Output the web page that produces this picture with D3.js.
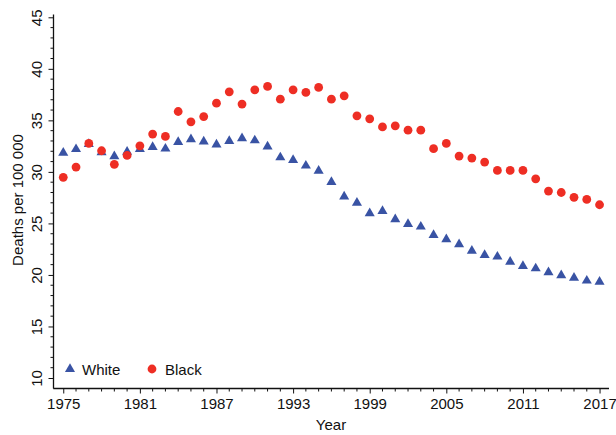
<!DOCTYPE html>
<html>
<head>
<meta charset="utf-8">
<script src="https://cdn.jsdelivr.net/npm/d3@7"></script>
<style>
  body { margin: 0; background: #fff; }
  text { font-family: "Liberation Sans", Arial, Helvetica, sans-serif; fill: #111; }
</style>
</head>
<body>
<div id="chart-area"></div>
<script>
// data
let years = d3.range(1975, 2018);

let white = [31.85, 32.2, 32.7, 31.9, 31.5, 31.95, 32.2, 32.4, 32.25, 32.9,
	33.15, 32.95, 32.65, 33.0, 33.25, 33.05, 32.45, 31.4, 31.15, 30.6,
	30.1, 29.0, 27.6, 27.0, 25.97, 26.2, 25.4, 24.94, 24.68, 23.87,
	23.45, 22.96, 22.35, 21.93, 21.77, 21.28, 20.86, 20.63, 20.25, 19.96,
	19.73, 19.44, 19.34];

let black = [29.47, 30.47, 32.76, 32.05, 30.73, 31.6, 32.53, 33.67, 33.44, 35.86,
	34.86, 35.37, 36.67, 37.77, 36.58, 37.96, 38.29, 37.06, 37.96, 37.71,
	38.2, 37.06, 37.38, 35.44, 35.15, 34.36, 34.47, 34.05, 34.05, 32.25,
	32.76, 31.53, 31.34, 30.95, 30.14, 30.14, 30.14, 29.33, 28.14, 28.0,
	27.53, 27.33, 26.81];

let xTicks = [1975, 1981, 1987, 1993, 1999, 2005, 2011, 2017];
let yTicks = [10, 15, 20, 25, 30, 35, 40, 45];
let seriesNames = ["White", "Black"];

let blue = "#3953a4", red = "#ee2e24";

let width = 616, height = 435;

let svg = d3.select("#chart-area").append("svg")
	.attr("width", width)
	.attr("height", height);

// scales
let x = d3.scaleLinear()
	.domain([1974.22, 2017.74])
	.range([53.3, 609]);

let y = d3.scaleLinear()
	.domain([10, 45])
	.range([378, 17.3]);

let axisBottomY = 388.5;

// y axis
let yAxis = d3.axisLeft(y)
	.tickValues(yTicks)
	.tickSize(5)
	.tickFormat(d3.format("d"));

let gy = svg.append("g")
	.attr("class", "axis y-axis")
	.attr("transform", "translate(53.5,0)")
	.call(yAxis);
gy.select(".domain").remove();
gy.selectAll(".tick line").attr("stroke", "#111");
gy.selectAll(".tick text")
	.attr("font-size", 15)
	.attr("text-anchor", "middle")
	.attr("dy", null)
	.attr("x", null)
	.attr("transform", "translate(-15,0) rotate(-90)")
	.attr("dominant-baseline", "middle");

// minor y ticks
gy.selectAll(".minor")
	.data(d3.range(10, 46).filter(v => v % 5 !== 0))
	.enter()
	.append("line")
	.attr("class", "minor")
	.attr("x1", -3)
	.attr("x2", 0)
	.attr("y1", d => y(d))
	.attr("y2", d => y(d))
	.attr("stroke", "#111");

gy.append("line")
	.attr("x1", 0).attr("x2", 0)
	.attr("y1", 14.5).attr("y2", axisBottomY)
	.attr("stroke", "#111")
	.attr("stroke-width", 1.3);

// x axis
let xAxis = d3.axisBottom(x)
	.tickValues(xTicks)
	.tickSize(5)
	.tickPadding(5)
	.tickFormat(d3.format("d"));

let gx = svg.append("g")
	.attr("class", "axis x-axis")
	.attr("transform", "translate(0," + axisBottomY + ")")
	.call(xAxis);
gx.select(".domain").remove();
gx.selectAll(".tick line").attr("stroke", "#111");
gx.selectAll(".tick text").attr("font-size", 15);

gx.selectAll(".minor")
	.data(years.filter(v => !xTicks.includes(v)))
	.enter()
	.append("line")
	.attr("class", "minor")
	.attr("x1", d => x(d))
	.attr("x2", d => x(d))
	.attr("y1", 0)
	.attr("y2", 3)
	.attr("stroke", "#111");

gx.append("line")
	.attr("x1", 53.3).attr("x2", 609)
	.attr("y1", 0).attr("y2", 0)
	.attr("stroke", "#111")
	.attr("stroke-width", 1.3);

// axis titles
svg.append("text")
	.attr("x", 331)
	.attr("y", 430)
	.attr("text-anchor", "middle")
	.attr("font-size", 15)
	.text("Year");

svg.append("text")
	.attr("transform", "translate(23,200) rotate(-90)")
	.attr("text-anchor", "middle")
	.attr("font-size", 15)
	.text("Deaths per 100 000");

// points
let tri = d3.symbol().type(d3.symbolTriangle).size(44);

let whitePts = years.map((yr, i) => ({year: yr, value: white[i]}));
let blackPts = years.map((yr, i) => ({year: yr, value: black[i]}));

svg.selectAll(".white-pt").data(whitePts)
	.enter()
	.append("path")
	.attr("class", "white-pt")
	.attr("d", tri)
	.attr("transform", d => "translate(" + x(d.year) + "," + y(d.value) + ")")
	.attr("fill", blue);

svg.selectAll(".black-pt").data(blackPts)
	.enter()
	.append("circle")
	.attr("class", "black-pt")
	.attr("cx", d => x(d.year))
	.attr("cy", d => y(d.value))
	.attr("r", 4.4)
	.attr("fill", red);

// legend
let legend = svg.append("g").attr("transform", "translate(0,369)");

legend.append("path")
	.attr("d", tri)
	.attr("transform", "translate(70,0)")
	.attr("fill", blue);
legend.append("text")
	.attr("x", 82)
	.attr("y", 5.5)
	.attr("font-size", 15)
	.text(seriesNames[0]);

legend.append("circle")
	.attr("cx", 152)
	.attr("cy", 0)
	.attr("r", 4.4)
	.attr("fill", red);
legend.append("text")
	.attr("x", 165)
	.attr("y", 5.5)
	.attr("font-size", 15)
	.text(seriesNames[1]);
</script>
</body>
</html>
